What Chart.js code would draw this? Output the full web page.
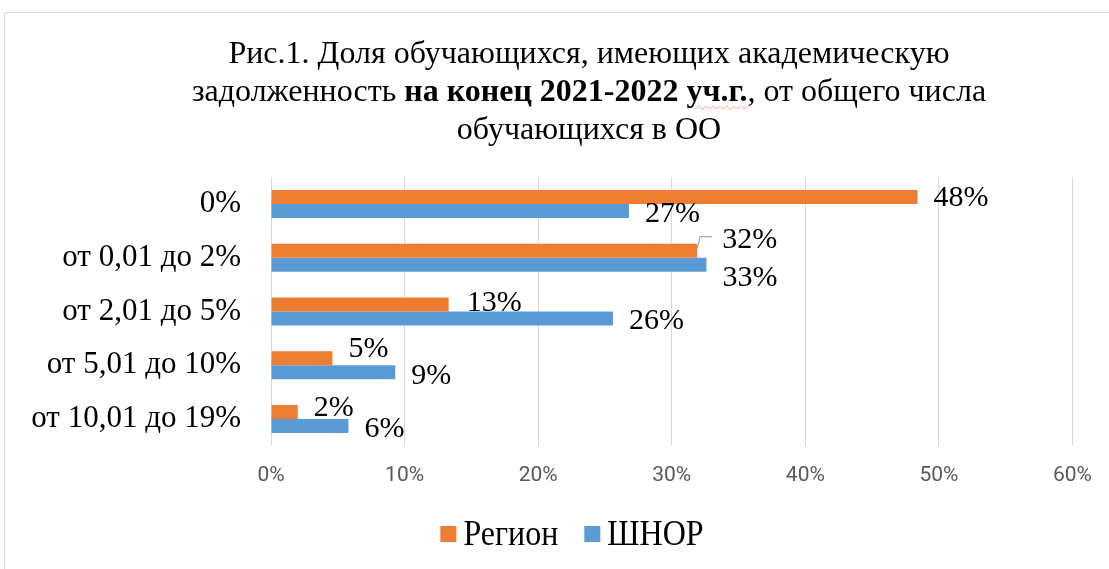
<!DOCTYPE html>
<html>
<head>
<meta charset="utf-8">
<script src="https://cdn.jsdelivr.net/npm/chart.js@4.4.1/dist/chart.umd.min.js"></script>
<style>
    html, body { margin: 0; padding: 0; background: #fff; }
    .frame {
        position: absolute; left: 4px; top: 12px;
        width: 1110px; height: 560px;
        border: 1px solid #d9d9d9;
    }
    .title {
        position: absolute; left: 0; top: 33px; width: 1178px;
        text-align: center;
        font-family: 'Liberation Serif', 'Times New Roman', serif;
        font-size: 32px; line-height: 38px; color: #000;
    }
    .title .spell {
        text-decoration-line: underline;
        text-decoration-style: wavy;
        text-decoration-color: rgba(220, 90, 90, 0.55);
        text-decoration-thickness: 1px;
        text-underline-offset: 4px;
    }
    .wrap { position: absolute; left: 0; top: 0; width: 1109px; height: 569px; }
</style>
</head>
<body>
<div class="frame"></div>
<div class="wrap"><canvas id="chart" width="1109" height="569"></canvas></div>
<div class="title">Рис.1. Доля обучающихся, имеющих академическую<br>задолженность <b>на конец 2021-2022 <span class="spell">уч.г.</span></b>, от общего числа<br>обучающихся в ОО</div>
<script>
// Data
const categories = ['0%', 'от 0,01 до 2%', 'от 2,01 до 5%', 'от 5,01 до 10%', 'от 10,01 до 19%'];
const regionValues = [48.4, 31.9, 13.3, 4.6, 2.0];
const shnorValues = [26.8, 32.6, 25.6, 9.3, 5.8];
const xTicks = [0, 10, 20, 30, 40, 50, 60];

// Label placement tweaks (like hand-dragged labels in the original)
const labelShift = [
    [[0, 0], [9, -12], [2, -2], [0, -10], [0, -5]],
    [[0, 2], [0, 12], [0, 2], [0, 3], [0, 2]]
];

const SERIF = "'Liberation Serif', 'Times New Roman', serif";

const valueLabels = {
    id: 'valueLabels',
    afterDatasetsDraw(chart) {
        const ctx = chart.ctx;
        ctx.save();
        ctx.font = '30px ' + SERIF;
        ctx.fillStyle = '#000';
        ctx.textBaseline = 'middle';
        ctx.textAlign = 'left';
        chart.data.datasets.forEach((ds, di) => {
            const meta = chart.getDatasetMeta(di);
            meta.data.forEach((bar, i) => {
                const [dx, dy] = labelShift[di][i];
                const x = bar.x + 16 + dx;
                const y = bar.y + dy;
                // leader line when label was moved away from the bar
                if (Math.abs(dy) >= 12 && dx > 0) {
                    ctx.strokeStyle = '#a6a6a6';
                    ctx.lineWidth = 1.2;
                    ctx.beginPath();
                    ctx.moveTo(bar.x, bar.y - 2);
                    ctx.lineTo(bar.x + 3, y - 2);
                    ctx.lineTo(x - 10, y - 2);
                    ctx.stroke();
                }
                ctx.fillText(Math.round(ds.data[i]) + '%', x, y + 1);
            });
        });
        ctx.restore();
    }
};

// Legend drawn by hand to get the tight box/text spacing of the original
const bottomLegend = {
    id: 'bottomLegend',
    afterDraw(chart) {
        const ctx = chart.ctx;
        const box = 16, gap = 7, itemGap = 26;
        const centerX = 572, centerY = 534;
        ctx.save();
        ctx.font = '32px ' + SERIF;
        ctx.textBaseline = 'middle';
        const items = chart.data.datasets.map(ds => ({
            text: ds.label,
            color: ds.backgroundColor,
            w: box + gap + ctx.measureText(ds.label).width
        }));
        const total = items.reduce((s, it) => s + it.w, 0) + itemGap * (items.length - 1);
        let x = centerX - total / 2;
        items.forEach(it => {
            ctx.fillStyle = it.color;
            ctx.fillRect(x, centerY - box / 2, box, box);
            ctx.fillStyle = '#000';
            ctx.save();
            ctx.translate(x + box + gap, centerY + 2);
            ctx.scale(1, 1.1);
            ctx.fillText(it.text, 0, 0);
            ctx.restore();
            x += it.w + itemGap;
        });
        ctx.restore();
    }
};

new Chart(document.getElementById('chart'), {
    type: 'bar',
    data: {
        labels: categories,
        datasets: [
            {
                label: 'Регион',
                data: regionValues,
                backgroundColor: '#ED7D31'
            },
            {
                label: 'ШНОР',
                data: shnorValues,
                backgroundColor: '#5B9BD5'
            }
        ]
    },
    options: {
        indexAxis: 'y',
        responsive: false,
        animation: false,
        layout: {
            padding: { top: 177, left: 0, right: 36, bottom: 63 }
        },
        datasets: {
            bar: {
                categoryPercentage: 0.52,
                barPercentage: 1
            }
        },
        scales: {
            x: {
                min: 0,
                max: 60,
                afterBuildTicks(axis) {
                    axis.ticks = xTicks.map(v => ({ value: v }));
                },
                afterFit(axis) {
                    axis.height = 60;
                },
                ticks: {
                    color: '#595959',
                    font: { family: 'Roboto, sans-serif', size: 21 },
                    padding: 17,
                    callback: v => v + '%'
                },
                grid: { color: '#d9d9d9', lineWidth: 1, drawTicks: false },
                border: { display: false }
            },
            y: {
                afterFit(axis) {
                    axis.width = 271;
                },
                ticks: {
                    color: '#000',
                    font: { family: SERIF, size: 31 },
                    padding: 22
                },
                grid: { display: false },
                border: { display: false }
            }
        },
        plugins: {
            legend: { display: false },
            tooltip: { enabled: false }
        }
    },
    plugins: [valueLabels, bottomLegend]
});
</script>
</body>
</html>
